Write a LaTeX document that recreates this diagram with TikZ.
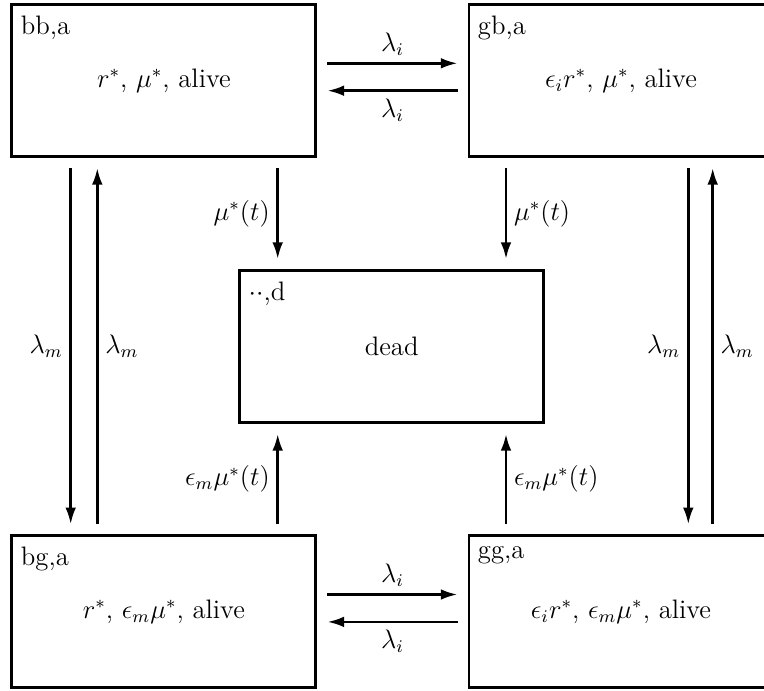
\documentclass[tikz,border=0pt]{standalone}
\usetikzlibrary{arrows.meta,calc}
\begin{document}
\begin{tikzpicture}[x=0.4492pt,y=-0.4492pt,font=\large,
  state/.style={draw,line width=1.3pt,minimum width=4.8cm,minimum height=2.4cm,inner sep=0pt},
  tag/.style={anchor=north west,inner sep=0pt},
  arr/.style={line width=1.2pt,-{Latex[length=7.5pt,width=4.8pt]},shorten >=4.5pt,shorten <=4.5pt},
  lab/.style={inner sep=3pt}]
\useasboundingbox (0,0) rectangle (764,691);
% states
\node[state] (bb) at (163.9,80.5) {$r^*$, $\mu^*$, alive};
\node[state] (gb) at (621,80.5) {$\epsilon_i r^*$, $\mu^*$, alive};
\node[state] (dd) at (391.7,346.5) {dead};
\node[state] (bg) at (163.9,611.7) {$r^*$, $\epsilon_m\mu^*$, alive};
\node[state] (gg) at (621,611.7) {$\epsilon_i r^*$, $\epsilon_m\mu^*$, alive};
% tags
\node[tag] (tbb) at ($(bb.north west)+(10,12.2)$) {bb,a};
\node[tag] (tgb) at ($(gb.north west)+(10,12.2)$) {gb,a};
\node[tag] (tdd) at ($(dd.north west)+(10,12.2)$) {$\cdot\cdot$,d};
\node[tag] (tbg) at ($(bg.north west)+(10,12.2)$) {bg,a};
\node[tag] (tgg) at ($(gg.north west)+(10,12.2)$) {gg,a};
% helper coordinates
\coordinate (h1) at (0,63.3);
\coordinate (h2) at (0,90.7);
\coordinate (h3) at (0,594.5);
\coordinate (h4) at (0,621.9);
\coordinate (v1) at (70.7,0);
\coordinate (v2) at (97.3,0);
\coordinate (v3) at (688.3,0);
\coordinate (v4) at (712.7,0);
\coordinate (m1) at (277.7,0);
\coordinate (m2) at (506,0);
% horizontal transitions
\draw[arr] (bb.east |- h1) -- (gb.west |- h1) node[midway,above,lab] {$\lambda_i$};
\draw[arr] (gb.west |- h2) -- (bb.east |- h2) node[midway,below,lab] {$\lambda_i$};
\draw[arr] (bg.east |- h3) -- (gg.west |- h3) node[midway,above,lab] {$\lambda_i$};
\draw[arr] (gg.west |- h4) -- (bg.east |- h4) node[midway,below,lab] {$\lambda_i$};
% vertical transitions
\draw[arr] (bb.south -| v1) -- (bg.north -| v1) node[midway,left,lab] {$\lambda_m$};
\draw[arr] (bg.north -| v2) -- (bb.south -| v2) node[midway,right,lab] {$\lambda_m$};
\draw[arr] (gb.south -| v3) -- (gg.north -| v3) node[midway,left,lab] {$\lambda_m$};
\draw[arr] (gg.north -| v4) -- (gb.south -| v4) node[midway,right,lab] {$\lambda_m$};
% deaths
\draw[arr] (bb.south -| m1) -- (dd.north -| m1) node[midway,left,lab] {$\mu^*(t)$};
\draw[arr] (gb.south -| m2) -- (dd.north -| m2) node[midway,right,lab] {$\mu^*(t)$};
\draw[arr] (bg.north -| m1) -- (dd.south -| m1) node[midway,left,lab] {$\epsilon_m\mu^*(t)$};
\draw[arr] (gg.north -| m2) -- (dd.south -| m2) node[midway,right,lab] {$\epsilon_m\mu^*(t)$};
\end{tikzpicture}
\end{document}
